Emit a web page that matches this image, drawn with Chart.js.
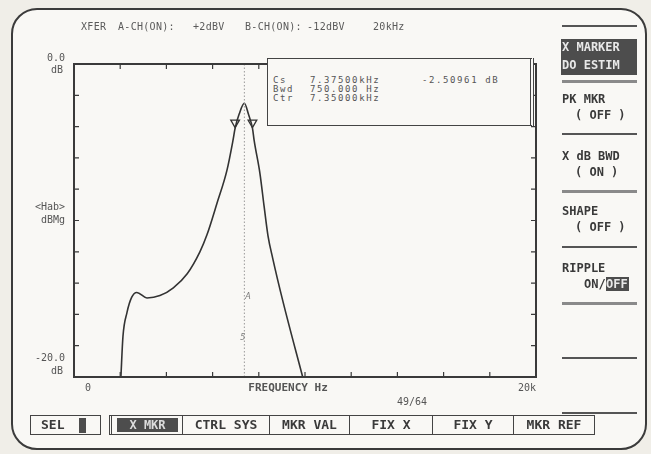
<!DOCTYPE html>
<html>
<head>
<meta charset="utf-8">
<script src="https://cdn.jsdelivr.net/npm/chart.js@4/dist/chart.umd.min.js"></script>
<style>
  body { margin: 0; width: 651px; height: 454px; background: #f0eee8; position: relative; overflow: hidden; }
  #frame { position: absolute; left: 11px; top: 8px; width: 632px; height: 438px;
           border: 2.5px solid #3b3b3b; border-radius: 26px; background: #f9f8f5; }
  #chart { position: absolute; left: 0; top: 0; }
  .t { position: absolute; font-family: "DejaVu Sans Mono", monospace; white-space: pre; line-height: 1; }
  .hdr { font-size: 10px; color: #5a5a5a; letter-spacing: 0.3px; top: 22px; }
  .info { position: absolute; left: 267px; top: 58px; width: 262px; height: 66px;
          border: 1.5px solid #444; border-right: 4px double #444; background: #f9f8f5; }
  .it { font-size: 9px; color: #555; letter-spacing: 1.6px; }
  .mn { font-size: 12px; font-weight: bold; color: #3a3a3a; left: 562px; }
  .hl { position: absolute; background: #4d4d4d; }
  .ln { position: absolute; left: 562px; width: 75px; height: 1.5px; background: #555; }
  .ln2 { position: absolute; left: 562px; width: 75px; height: 3px; background: #8a8a8a; }
  .btn { position: absolute; top: 415px; height: 20px; border: 1.5px solid #444; box-sizing: border-box;
         font-family: "DejaVu Sans Mono", monospace; font-weight: bold; font-size: 13px; color: #3a3a3a;
         text-align: center; line-height: 18px; white-space: pre; }
</style>
</head>
<body>
<div id="frame"></div>
<canvas id="chart" width="651" height="454"></canvas>

<!-- header line -->
<div class="t hdr" style="left:81px">XFER</div>
<div class="t hdr" style="left:118px">A-CH(ON):</div>
<div class="t hdr" style="left:193px">+2dBV</div>
<div class="t hdr" style="left:245px">B-CH(ON):</div>
<div class="t hdr" style="left:307px">-12dBV</div>
<div class="t hdr" style="left:373px">20kHz</div>

<!-- marker readout -->
<div class="info"></div>
<div class="t it" style="left:273px;top:76px">Cs</div>
<div class="t it" style="left:273px;top:85px">Bwd</div>
<div class="t it" style="left:273px;top:94px">Ctr</div>
<div class="t it" style="left:310px;top:76px">7.37500kHz</div>
<div class="t it" style="left:310px;top:85px">750.000 Hz</div>
<div class="t it" style="left:310px;top:94px">7.35000kHz</div>
<div class="t it" style="left:422px;top:76px">-2.50961 dB</div>

<!-- soft key menu -->
<div class="ln" style="top:25px"></div>
<div class="hl" style="left:561px;top:39px;width:76px;height:36px"></div>
<div class="t mn" style="top:41px;color:#e8e8e8">X MARKER</div>
<div class="t mn" style="top:59px;color:#e8e8e8">DO ESTIM</div>
<div class="ln2" style="top:80px"></div>
<div class="t mn" style="top:93px">PK MKR</div>
<div class="t mn" style="top:109px;left:575px">( OFF )</div>
<div class="ln" style="top:133px"></div>
<div class="t mn" style="top:150px">X dB BWD</div>
<div class="t mn" style="top:166px;left:575px">( ON )</div>
<div class="ln2" style="top:190px"></div>
<div class="t mn" style="top:205px">SHAPE</div>
<div class="t mn" style="top:221px;left:575px">( OFF )</div>
<div class="ln" style="top:246px"></div>
<div class="t mn" style="top:262px">RIPPLE</div>
<div class="t mn" style="top:278px;left:584px">ON/</div>
<div class="hl" style="left:606px;top:277px;width:23px;height:14px"></div>
<div class="t mn" style="top:278px;left:606px;color:#e8e8e8">OFF</div>
<div class="ln2" style="top:302px"></div>
<div class="ln" style="top:357px"></div>
<div class="ln" style="top:412px"></div>

<!-- bottom keys -->
<div class="btn" style="left:30px;width:71px;text-align:left;padding-left:10px">SEL</div>
<div class="hl" style="left:79px;top:418px;width:7px;height:15px"></div>
<div class="btn" style="left:109px;width:74px;border-left:3px double #444"></div>
<div class="hl" style="left:117px;top:418px;width:61px;height:14px"></div>
<div class="t" style="left:117px;top:419px;width:61px;text-align:center;font-size:12px;font-weight:bold;color:#ddd">X MKR</div>
<div class="btn" style="left:182px;width:88px">CTRL SYS</div>
<div class="btn" style="left:269px;width:81px">MKR VAL</div>
<div class="btn" style="left:349px;width:84px">FIX X</div>
<div class="btn" style="left:432px;width:82px">FIX Y</div>
<div class="btn" style="left:513px;width:82px">MKR REF</div>

<script>
/* ================= DATA ================= */

const freqHz = [2030, 2120, 2290, 2500, 2720, 3160, 3720, 4300, 4900, 5450, 5760,
                6190, 6620, 6880, 6975, 7150, 7375, 7550, 7725, 7800, 8050, 8230, 8400,
                8600, 9050, 9900];
const levelDb = [-20, -17.4, -15.9, -14.9, -14.6, -14.95, -14.8, -14.3, -13.4, -12.0, -10.9,
                 -8.9, -6.8, -4.9, -4.1, -3.2, -2.51, -3.2, -4.1, -4.9, -7.0, -9.1, -11.0,
                 -12.4, -15.2, -20];

const freqTicks = [0, 2000, 4000, 6000, 8000, 10000, 12000, 14000, 16000, 18000, 20000];
const dbTicks = [0, -2, -4, -6, -8, -10, -12, -14, -16, -18, -20];

const bwEdgesHz = [6975, 7725];
const bwEdgesDb = [-3.75, -3.75];
const markerHz = 7375;

/* ================= FRAME PLUGIN ================= */

const ink = "#3a3a3a";

const framePlugin = {
  id: "frame",
  afterDraw(chart) {
    const { ctx, chartArea: a, scales } = chart;
    const x = scales.x, y = scales.y;
    ctx.save();

    // axis box
    ctx.strokeStyle = ink;
    ctx.lineWidth = 2;
    ctx.strokeRect(a.left, a.top, a.right - a.left, a.bottom - a.top);

    // inward ticks
    ctx.lineWidth = 1.2;
    ctx.beginPath();
    freqTicks.slice(1, -1).forEach(v => {
      const px = x.getPixelForValue(v);
      ctx.moveTo(px, a.top); ctx.lineTo(px, a.top + 5);
      ctx.moveTo(px, a.bottom); ctx.lineTo(px, a.bottom - 5);
    });
    dbTicks.slice(1, -1).forEach(v => {
      const py = y.getPixelForValue(v);
      ctx.moveTo(a.left, py); ctx.lineTo(a.left + 5, py);
      ctx.moveTo(a.right, py); ctx.lineTo(a.right - 5, py);
    });
    ctx.stroke();

    // axis labels
    ctx.fillStyle = "#555";
    ctx.font = "10px 'DejaVu Sans Mono'";
    ctx.textBaseline = "middle";
    ctx.textAlign = "right";
    const y0 = y.getPixelForValue(dbTicks[0]);
    const yMid = y.getPixelForValue(dbTicks[5]);
    const yEnd = y.getPixelForValue(dbTicks[10]);
    ctx.fillText("0.0", a.left - 9, y0 - 6);
    ctx.fillText("dB", a.left - 11, y0 + 6);
    ctx.fillText("<Hab>", a.left - 9, yMid - 13);
    ctx.fillText("dBMg", a.left - 9, yMid);
    ctx.fillText("-20.0", a.left - 9, yEnd - 19);
    ctx.fillText("dB", a.left - 11, yEnd - 6);

    ctx.textAlign = "left";
    ctx.fillText("0", x.getPixelForValue(freqTicks[0]) + 11, a.bottom + 11);
    ctx.textAlign = "right";
    ctx.fillText("20k", x.getPixelForValue(freqTicks[10]), a.bottom + 11);
    ctx.textAlign = "left";
    ctx.font = "bold 11px 'DejaVu Sans Mono'";
    ctx.fillText("FREQUENCY Hz", x.getPixelForValue(markerHz) + 4, a.bottom + 11);
    ctx.font = "10px 'DejaVu Sans Mono'";
    ctx.fillText("49/64", 397, a.bottom + 25);

    // small marker tags on the dotted line
    ctx.font = "italic 8px 'DejaVu Sans'";
    ctx.fillStyle = "#777";
    const mx = x.getPixelForValue(markerHz);
    ctx.fillText("A", mx + 1, y.getPixelForValue(-14.9));
    ctx.fillText("5", mx - 4, y.getPixelForValue(-17.5));

    ctx.restore();
  }
};

/* ================= CHART ================= */

new Chart(document.getElementById("chart"), {
  type: "scatter",
  data: {
    datasets: [
      {
        data: [{ x: markerHz, y: dbTicks[0] }, { x: markerHz, y: dbTicks[10] }],
        showLine: true,
        borderColor: "#999",
        borderWidth: 1,
        borderDash: [1.5, 2],
        pointRadius: 0
      },
      {
        data: freqHz.map((f, i) => ({ x: f, y: levelDb[i] })),
        showLine: true,
        borderColor: "#333",
        borderWidth: 1.6,
        cubicInterpolationMode: "monotone",
        pointRadius: 0
      },
      {
        data: bwEdgesHz.map((f, i) => ({ x: f, y: bwEdgesDb[i] })),
        pointStyle: "triangle",
        rotation: 180,
        pointRadius: 5,
        borderWidth: 1.3,
        borderColor: "#333",
        backgroundColor: "#f9f8f5"
      }
    ]
  },
  options: {
    responsive: false,
    animation: false,
    devicePixelRatio: 1,
    layout: { padding: { left: 74, top: 64, right: 115, bottom: 77 } },
    plugins: { legend: { display: false }, tooltip: { enabled: false } },
    scales: {
      x: { type: "linear", min: freqTicks[0], max: freqTicks[10], display: false },
      y: { type: "linear", min: dbTicks[10], max: dbTicks[0], display: false }
    }
  },
  plugins: [framePlugin]
});
</script>
</body>
</html>
